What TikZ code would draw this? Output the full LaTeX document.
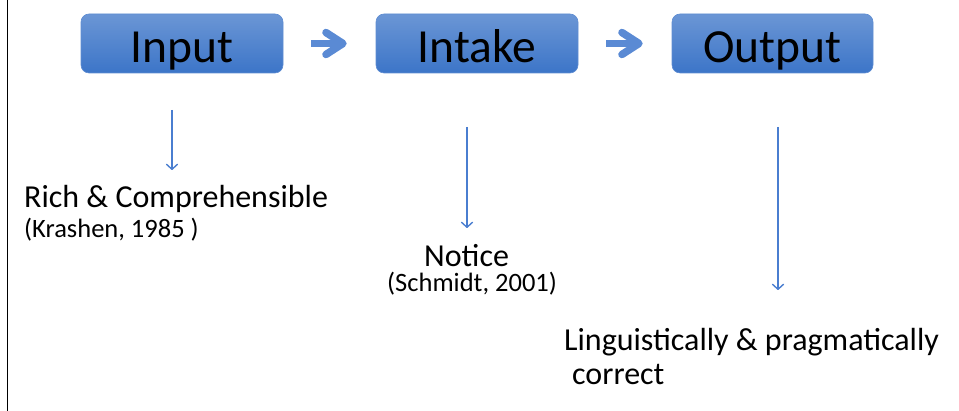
\documentclass[tikz,border=0pt]{standalone}
\usepackage{fontspec}
\setmainfont{Carlito}
\usetikzlibrary{arrows.meta}
\definecolor{boxtop}{HTML}{6B96D5}
\definecolor{boxbot}{HTML}{3C75C8}
\definecolor{boxedge}{HTML}{5F8DD2}
\definecolor{chevcol}{HTML}{5A8AD4}
\definecolor{thincol}{HTML}{4A7ED0}
\tikzset{
  stagebox/.style={rounded corners=8pt, minimum width=202pt, inner sep=0pt,
    text height=49pt, text depth=10pt, top color=boxtop, bottom color=boxbot,
    draw=boxedge, line width=0.6pt, font=\fontsize{47.5}{52}\selectfont},
  chev/.style={draw=chevcol, line width=7.5pt, shorten <=28pt, shorten >=29pt,
    -{Straight Barb[length=17pt, width=22pt, line cap=round, line join=round]}},
  thinarrow/.style={draw=thincol, line width=1.4pt,
    -{Straight Barb[length=5pt, width=11pt, line cap=round, line join=round]}},
  mainlabel/.style={anchor=base west, inner sep=0pt, font=\fontsize{32}{36}\selectfont},
  citelabel/.style={anchor=base west, inner sep=0pt, font=\fontsize{26.5}{30}\selectfont}
}
\begin{document}
\begin{tikzpicture}[x=1pt, y=-1pt]
\useasboundingbox (0,0) rectangle (959,411);
\draw[line width=1.5pt] (7.5,0) -- (7.5,411);
\node[stagebox] (input)  at (182,43.5) {Input};
\node[stagebox] (intake) at (477,43.5) {Intake};
\node[stagebox, minimum width=201pt] (output) at (772.5,43.5) {Output};
\draw[chev] (input.east) -- (intake.west);
\draw[chev] (intake.west -| intake.east) -- (output.west);
\node[mainlabel] (rich) at (24,208) {Rich \& Comprehensible};
\node[citelabel] (krashen) at (24,238) {(Krashen, 1985 )};
\node[mainlabel] (notice) at (424,267) {Notice};
\node[citelabel] (schmidt) at (387,292) {(Schmidt, 2001)};
\node[mainlabel] (ling) at (564,351) {Linguistically \& pragmatically};
\node[mainlabel] (correct) at (572,385) {correct};
\coordinate (a1s) at (172,110); \coordinate (a1e) at (172,170);
\coordinate (a2s) at (467,127); \coordinate (a2e) at (467,228);
\coordinate (a3s) at (778,127); \coordinate (a3e) at (778,290);
\draw[thinarrow] (a1s) -- (a1e);
\draw[thinarrow] (a2s) -- (a2e);
\draw[thinarrow] (a3s) -- (a3e);
\end{tikzpicture}
\end{document}
